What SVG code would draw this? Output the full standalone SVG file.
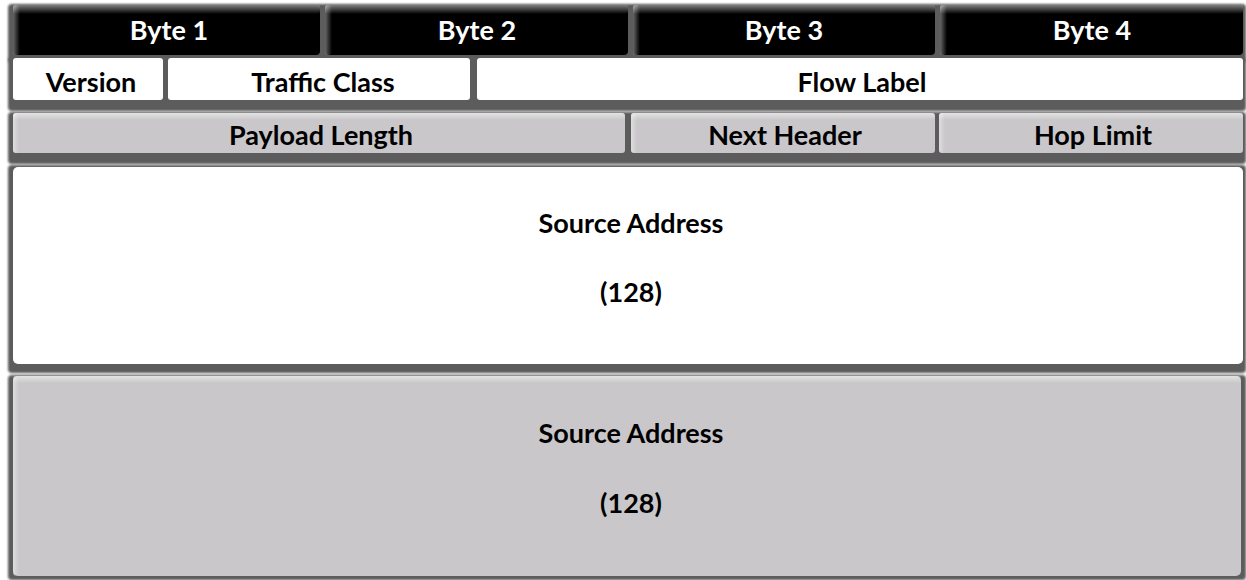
<svg xmlns="http://www.w3.org/2000/svg" width="1246" height="580" viewBox="0 0 1246 580">
  <defs>
    <linearGradient id="hiTop" x1="0" y1="0" x2="0" y2="1">
      <stop offset="0" stop-color="#ffffff" stop-opacity="0.5"/>
      <stop offset="1" stop-color="#ffffff" stop-opacity="0"/>
    </linearGradient>
    <linearGradient id="hiLeft" x1="0" y1="0" x2="1" y2="0">
      <stop offset="0" stop-color="#ffffff" stop-opacity="0.4"/>
      <stop offset="1" stop-color="#ffffff" stop-opacity="0"/>
    </linearGradient>
    <filter id="soft" x="-5%" y="-20%" width="110%" height="140%">
      <feGaussianBlur stdDeviation="1.2"/>
    </filter>
    <style>
      .back { fill: #5c5c5c; filter: url(#soft); }
      .black { fill: #000000; }
      .white { fill: #ffffff; }
      .gray { fill: #c9c7c9; }
      .ht { fill: url(#hiTop); }
      .hl { fill: url(#hiLeft); }
      text { font-family: Lato, "Liberation Sans", sans-serif; font-weight: 700; font-size: 27px; text-anchor: middle; fill: #000000; }
      text.inv { fill: #ffffff; }
    </style>
  </defs>
  <rect width="1246" height="580" fill="#ffffff"/>

  <g id="shadows">
    <rect class="back" x="8" y="4" width="1238" height="59" rx="4"/>
    <rect class="back" x="8" y="57" width="1238" height="54" rx="4"/>
    <rect class="back" x="8" y="112" width="1238" height="52" rx="4"/>
    <rect class="back" x="8" y="165" width="1238" height="208" rx="4"/>
    <rect class="back" x="8" y="375" width="1238" height="205" rx="4"/>
  </g>

  <g id="byte1">
    <rect class="black" x="13" y="5" width="307" height="50" rx="4"/>
    <rect class="ht" x="13" y="5" width="307" height="9" rx="3"/>
    <rect class="hl" x="13" y="5" width="7" height="50" rx="3"/>
    <text class="inv" x="169" y="40">Byte 1</text>
  </g>
  <g id="byte2">
    <rect class="black" x="325" y="5" width="303" height="50" rx="4"/>
    <rect class="ht" x="325" y="5" width="303" height="9" rx="3"/>
    <rect class="hl" x="325" y="5" width="7" height="50" rx="3"/>
    <text class="inv" x="477" y="40">Byte 2</text>
  </g>
  <g id="byte3">
    <rect class="black" x="633" y="5" width="302" height="50" rx="4"/>
    <rect class="ht" x="633" y="5" width="302" height="9" rx="3"/>
    <rect class="hl" x="633" y="5" width="7" height="50" rx="3"/>
    <text class="inv" x="784" y="40">Byte 3</text>
  </g>
  <g id="byte4">
    <rect class="black" x="940" y="5" width="303" height="50" rx="4"/>
    <rect class="ht" x="940" y="5" width="303" height="9" rx="3"/>
    <rect class="hl" x="940" y="5" width="7" height="50" rx="3"/>
    <text class="inv" x="1092" y="40">Byte 4</text>
  </g>

  <g id="version">
    <rect class="white" x="13" y="58" width="150" height="42" rx="3"/>
    <text x="91" y="92">Version</text>
  </g>
  <g id="traffic-class">
    <rect class="white" x="168" y="58" width="302" height="42" rx="3"/>
    <text x="323" y="92">Traffic Class</text>
  </g>
  <g id="flow-label">
    <rect class="white" x="477" y="58" width="766" height="42" rx="3"/>
    <text x="862" y="92">Flow Label</text>
  </g>

  <g id="payload-length">
    <rect class="gray" x="13" y="113" width="612" height="40" rx="3"/>
    <rect class="ht" x="13" y="113" width="612" height="7" rx="3"/>
    <rect class="hl" x="13" y="113" width="6" height="40" rx="3"/>
    <text x="321" y="145">Payload Length</text>
  </g>
  <g id="next-header">
    <rect class="gray" x="631" y="113" width="304" height="40" rx="3"/>
    <rect class="ht" x="631" y="113" width="304" height="7" rx="3"/>
    <rect class="hl" x="631" y="113" width="6" height="40" rx="3"/>
    <text x="785" y="145">Next Header</text>
  </g>
  <g id="hop-limit">
    <rect class="gray" x="939" y="113" width="304" height="40" rx="3"/>
    <rect class="ht" x="939" y="113" width="304" height="7" rx="3"/>
    <rect class="hl" x="939" y="113" width="6" height="40" rx="3"/>
    <text x="1093" y="145">Hop Limit</text>
  </g>

  <g id="source-address-1">
    <rect class="white" x="13" y="167" width="1230" height="197" rx="5"/>
    <text x="631" y="233">Source Address</text>
    <text x="631" y="302">(128)</text>
  </g>

  <g id="source-address-2">
    <rect class="gray" x="13" y="376" width="1228" height="200" rx="5"/>
    <rect class="ht" x="13" y="376" width="1228" height="7" rx="3"/>
    <rect class="hl" x="13" y="376" width="6" height="200" rx="3"/>
    <text x="631" y="443">Source Address</text>
    <text x="631" y="513">(128)</text>
  </g>

  <g id="connectors"/>
</svg>
